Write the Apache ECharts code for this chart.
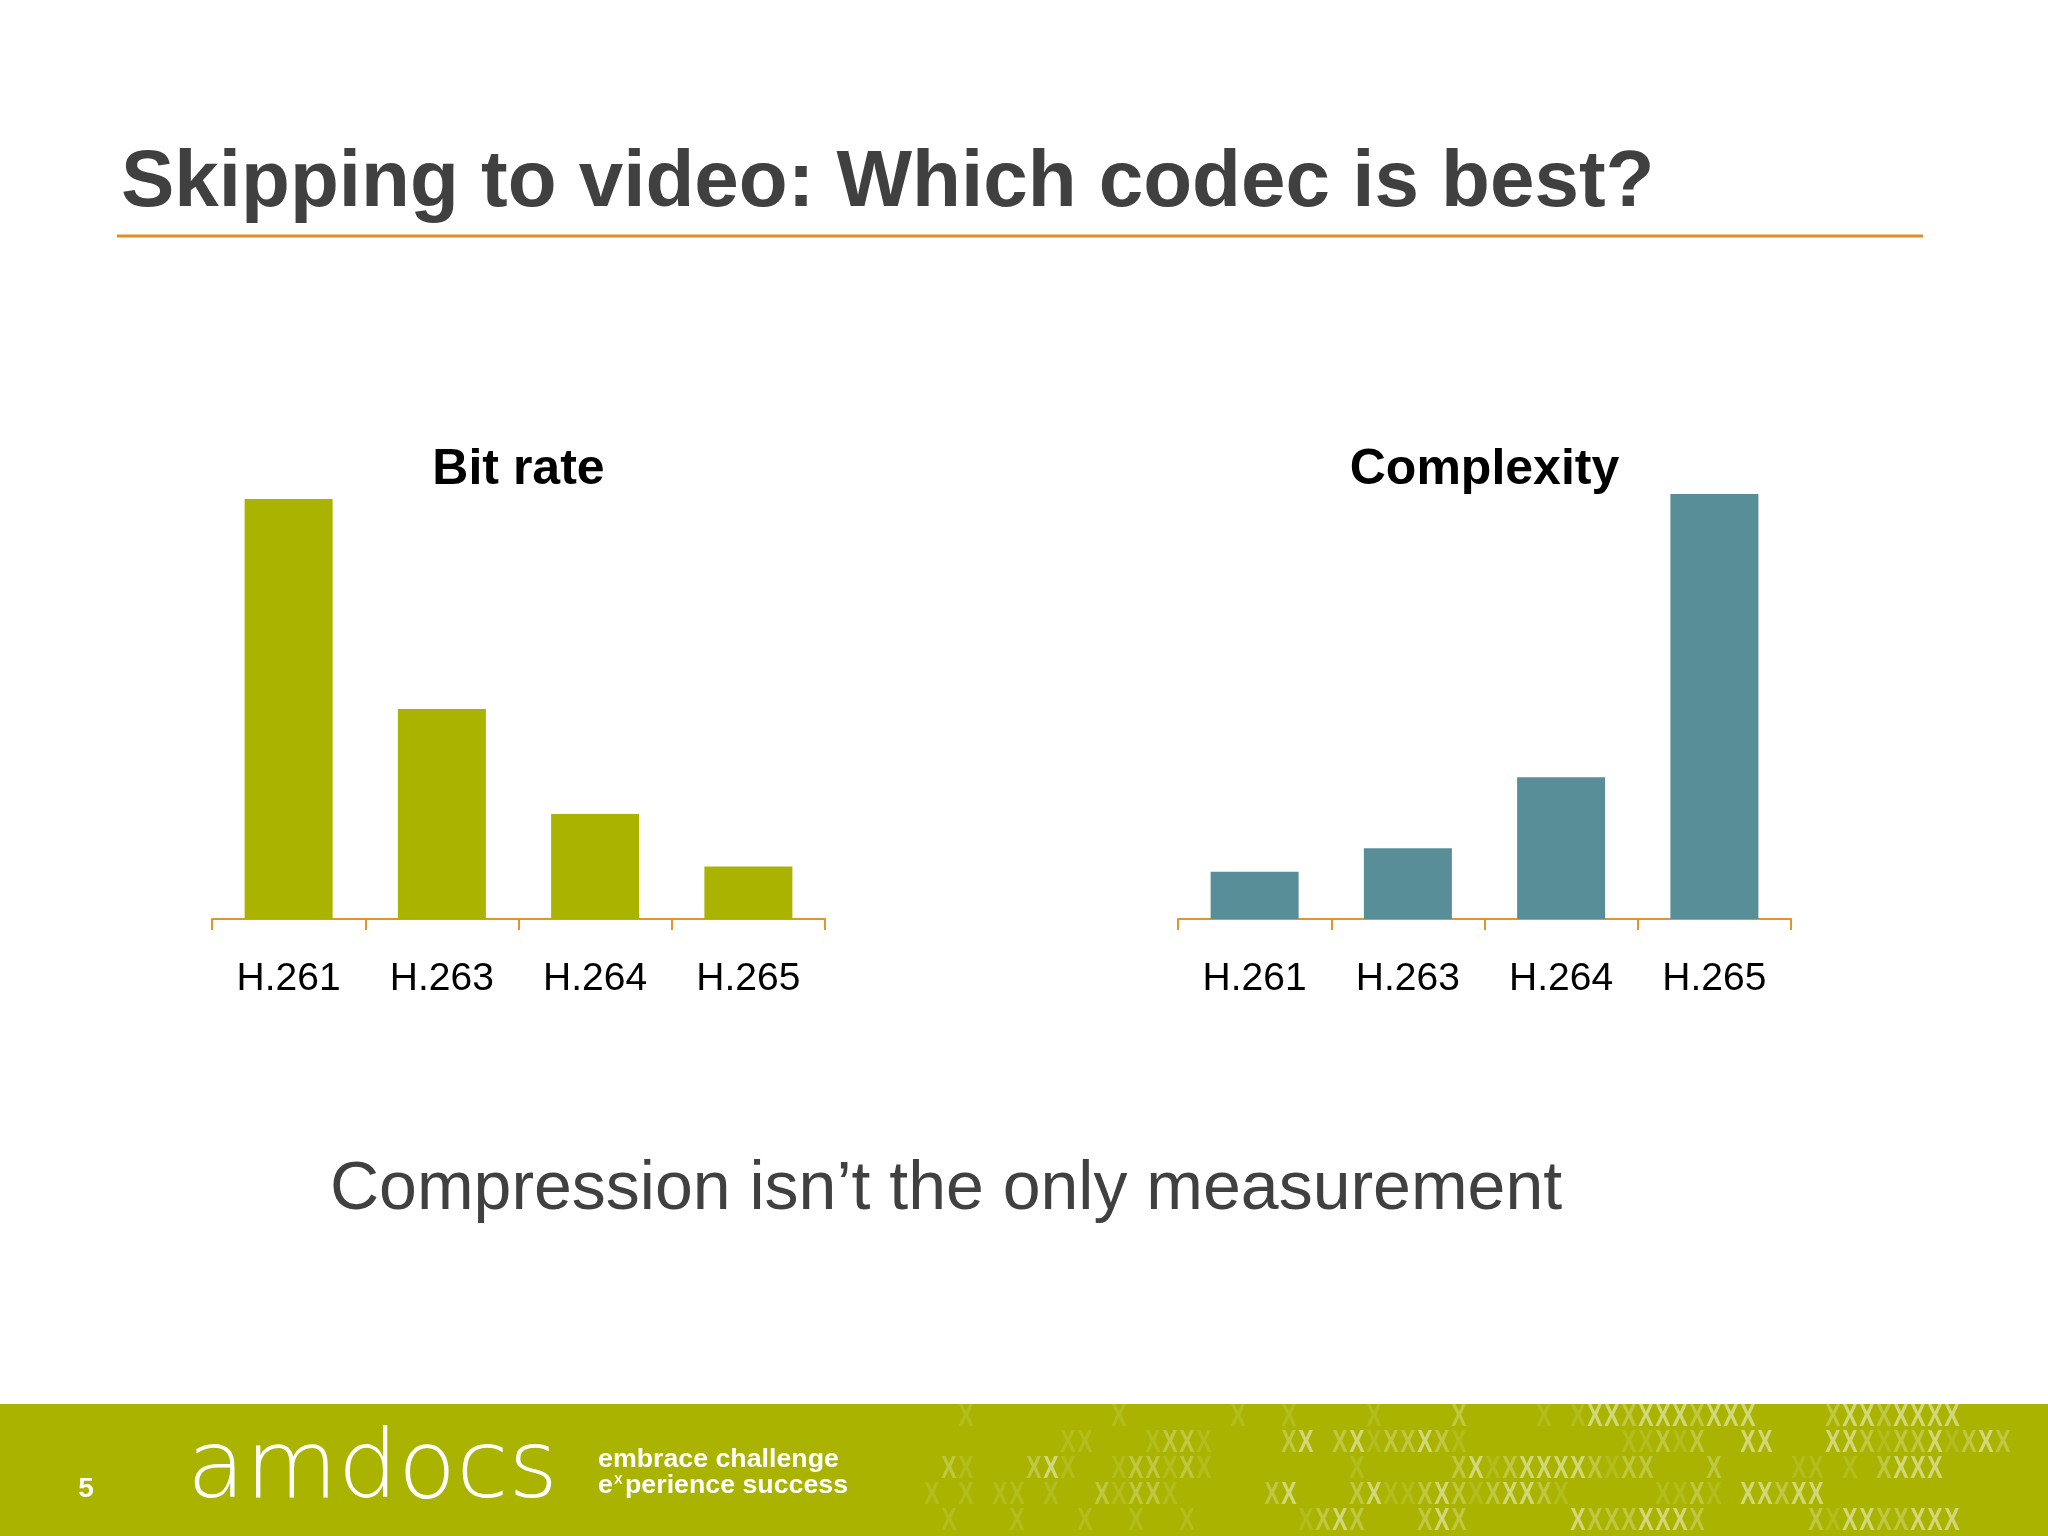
<!DOCTYPE html>
<html>
<head>
<meta charset="utf-8">
<script src="https://cdn.jsdelivr.net/npm/echarts@6/dist/echarts.min.js"></script>
<style>
html,body{margin:0;padding:0;background:#fff;}
#chart{width:2048px;height:1536px;}
</style>
</head>
<body>
<div id="chart"></div>
<script>
// ---- data ----
const categories = ['H.261', 'H.263', 'H.264', 'H.265'];
const bitRate = [8, 4, 2, 1];
const complexity = [1, 1.5, 3, 9];
const chartTitles = ['Bit rate', 'Complexity'];
const slideTitle = 'Skipping to video: Which codec is best?';
const slideNote = 'Compression isn\u2019t the only measurement';
const pageNumber = '5';
const tagLine1 = 'embrace challenge';
const patternRows = [
  '   .        .      .  .    .    x    . .XXxXXXxXXX    xXXxXXXX',
  '         ..   .xx.    xX xX.xxXx.         ..x.x  XX   XXx.xxX.xXx',
  '  x.   xX.  .xx.x.        .     xX.xXXXXx.xx   x    .. . xXXX',
  ' . . .. .  x.xx.     xX   xX..xXx.xXXx.     ..x. XXxXX',
  '  .   .   .  .  .      .xXx   xXx      XxxxXXXx      x.XXxxXXX'
];

const sans = "'Liberation Sans', Arial, Helvetica, sans-serif";
const axisColor = '#E8922C';
const greenBar = '#A9B300';
const tealBar = '#588E98';
const footerGreen = '#AAB400';

const chart = echarts.init(document.getElementById('chart'), null, {renderer: 'canvas'});

function xAxisCfg(gi) {
  return {
    type: 'category', gridIndex: gi, data: categories, boundaryGap: true,
    axisLine: {show: true, lineStyle: {color: axisColor, width: 2}},
    axisTick: {show: true, length: 11, lineStyle: {color: axisColor, width: 2}},
    axisLabel: {fontSize: 39, fontFamily: sans, color: '#000', margin: 41},
    splitLine: {show: false}
  };
}
function yAxisCfg(gi, max) {
  return {type: 'value', gridIndex: gi, min: 0, max: max, show: false, splitLine: {show: false}};
}

const graphics = [];
// footer band
graphics.push({type: 'rect', shape: {x: 0, y: 1404, width: 2048, height: 132}, style: {fill: footerGreen}, z: 0});
// X pattern (decoration)
const opac = {'.': 0.12, 'x': 0.26, 'X': 0.48};
const rowY = [1417, 1443, 1469, 1495, 1521];
patternRows.forEach(function (row, r) {
  for (let i = 0; i < row.length; i++) {
    const c = row[i];
    if (c === ' ') continue;
    graphics.push({
      type: 'text', x: 915 + i * 17, y: rowY[r], z: 1, scaleX: 0.74,
      style: {text: 'X', font: 'bold 31px ' + sans,
        fill: 'rgba(255,255,255,' + opac[c] + ')', textAlign: 'center', textVerticalAlign: 'middle'}
    });
  }
});
// slide title
graphics.push({type: 'text', x: 121, y: 184, z: 5,
  style: {text: slideTitle, font: 'bold 80px ' + sans, fill: '#404040', textAlign: 'left', textVerticalAlign: 'middle'}});
// orange rule
graphics.push({type: 'rect', shape: {x: 117, y: 234.5, width: 1806, height: 3}, style: {fill: '#E38C23'}, z: 5});
// chart titles
graphics.push({type: 'text', x: 518.5, y: 470, z: 5,
  style: {text: chartTitles[0], font: 'bold 50px ' + sans, fill: '#000', textAlign: 'center', textVerticalAlign: 'middle'}});
graphics.push({type: 'text', x: 1484.5, y: 470, z: 5,
  style: {text: chartTitles[1], font: 'bold 50px ' + sans, fill: '#000', textAlign: 'center', textVerticalAlign: 'middle'}});
// note
graphics.push({type: 'text', x: 330, y: 1190, z: 5,
  style: {text: slideNote, font: '68px ' + sans, fill: '#404040', textAlign: 'left', textVerticalAlign: 'middle'}});
// footer texts
graphics.push({type: 'text', x: 86, y: 1489, z: 5,
  style: {text: pageNumber, font: 'bold 28px ' + sans, fill: '#fff', textAlign: 'center', textVerticalAlign: 'middle'}});
graphics.push({type: 'text', x: 187, y: 1472, z: 5,
  style: {text: 'amdocs', font: "200 95px 'DejaVu Sans', sans-serif", fill: '#fff', textAlign: 'left', textVerticalAlign: 'middle'}});
graphics.push({type: 'text', x: 598, y: 1460, z: 5, scaleX: 1.07,
  style: {text: tagLine1, font: 'bold 25px ' + sans, fill: '#fff', textAlign: 'left', textVerticalAlign: 'middle'}});
graphics.push({type: 'text', x: 598, y: 1486, z: 5, scaleX: 1.07,
  style: {text: 'e', font: 'bold 25px ' + sans, fill: '#fff', textAlign: 'left', textVerticalAlign: 'middle'}});
graphics.push({type: 'text', x: 614, y: 1480, z: 5,
  style: {text: 'X', font: 'bold 13px ' + sans, fill: '#fff', textAlign: 'left', textVerticalAlign: 'middle'}});
graphics.push({type: 'text', x: 625, y: 1486, z: 5, scaleX: 1.07,
  style: {text: 'perience success', font: 'bold 25px ' + sans, fill: '#fff', textAlign: 'left', textVerticalAlign: 'middle'}});

const option = {
  animation: false,
  backgroundColor: '#fff',
  grid: [
    {left: 212, top: 499, width: 613, height: 420, containLabel: false},
    {left: 1178, top: 494, width: 613, height: 425, containLabel: false}
  ],
  xAxis: [xAxisCfg(0), xAxisCfg(1)],
  yAxis: [yAxisCfg(0, 8), yAxisCfg(1, 9)],
  series: [
    {type: 'bar', name: chartTitles[0], xAxisIndex: 0, yAxisIndex: 0, data: bitRate, barWidth: 88,
      itemStyle: {color: greenBar}, silent: true, z: 2},
    {type: 'bar', name: chartTitles[1], xAxisIndex: 1, yAxisIndex: 1, data: complexity, barWidth: 88,
      itemStyle: {color: tealBar}, silent: true, z: 2}
  ],
  graphic: {elements: graphics}
};
chart.setOption(option);
</script>
</body>
</html>
